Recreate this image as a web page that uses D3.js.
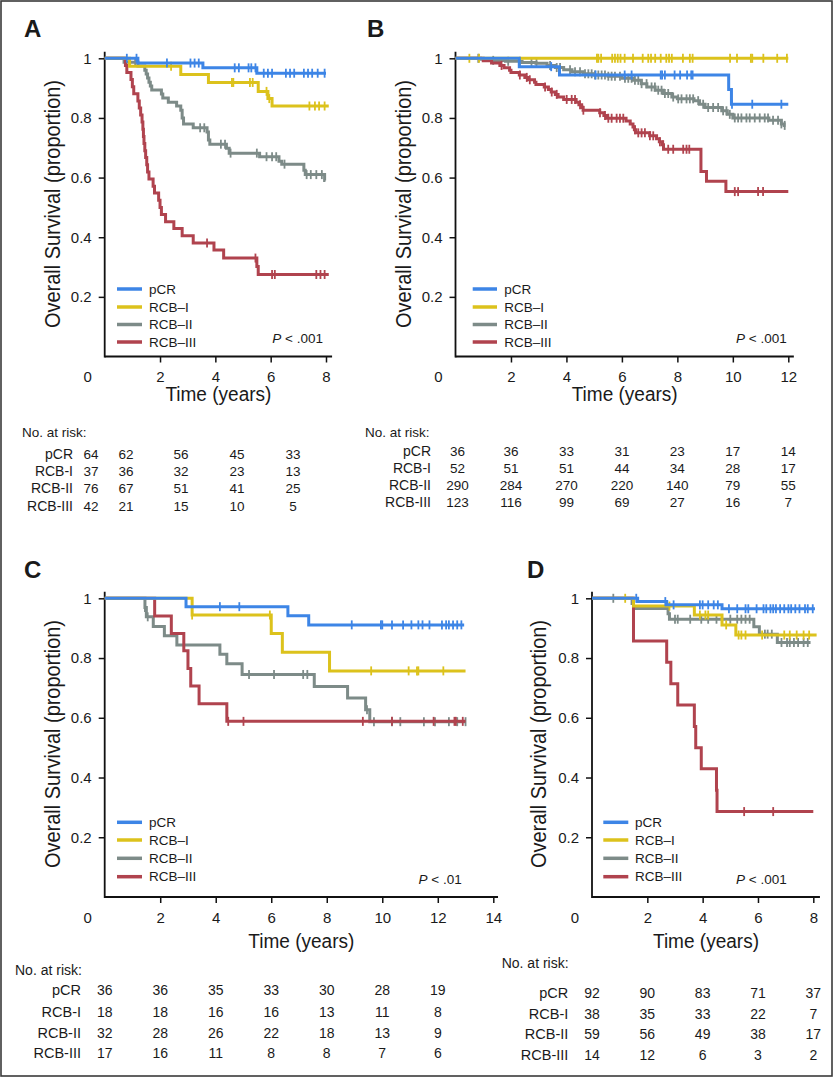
<!DOCTYPE html>
<html>
<head>
<meta charset="utf-8">
<script src="https://cdn.jsdelivr.net/npm/d3@7"></script>
<style>
  html, body { margin: 0; padding: 0; background: #fff; }
  svg { display: block; }
  text { font-family: "Liberation Sans", Arial, sans-serif; fill: #1a1a1a; }
  .narrow { font-family: "Liberation Sans Narrow", "Arial Narrow", "Liberation Sans", sans-serif; }
</style>
</head>
<body>
<svg id="chart" width="837" height="1078"></svg>
<script>
// ---------------- DATA ----------------
const groups = ["pCR", "RCB–I", "RCB–II", "RCB–III"];
const tableLabels = ["pCR", "RCB-I", "RCB-II", "RCB-III"];
const groupColors = ["#3d85e6", "#dcc21c", "#7d8b88", "#b0434e"];
const yTicks = [0.2, 0.4, 0.6, 0.8, 1];

// Panel A
const A_xTicks = [0, 2, 4, 6, 8];
const A_pCR_steps = [[1.2, 0.984], [3.55, 0.968], [5.5, 0.95]];
const A_RCBI_steps = [[0.9, 0.973], [2.75, 0.946], [3.75, 0.919], [5.55, 0.889], [5.9, 0.865], [6.05, 0.84]];
const A_RCBII_steps = [[0.7, 0.987], [1.2, 0.974], [1.45, 0.96], [1.5, 0.947], [1.55, 0.934], [1.6, 0.92], [1.65, 0.907], [1.7, 0.894], [2.05, 0.88], [2.1, 0.867], [2.3, 0.853], [2.6, 0.84], [2.75, 0.826], [2.8, 0.80], [2.85, 0.78], [3.2, 0.767], [3.7, 0.753], [3.75, 0.726], [3.8, 0.712], [4.4, 0.698], [4.5, 0.682], [5.6, 0.67], [6.3, 0.655], [6.4, 0.645], [7.2, 0.625], [7.25, 0.61], [7.95, 0.59]];
const A_RCBIII_steps = [[0.75, 0.976], [0.8, 0.952], [0.95, 0.929], [1.0, 0.905], [1.05, 0.881], [1.2, 0.857], [1.25, 0.833], [1.3, 0.81], [1.35, 0.786], [1.38, 0.762], [1.4, 0.738], [1.42, 0.714], [1.45, 0.69], [1.48, 0.667], [1.52, 0.643], [1.55, 0.619], [1.6, 0.595], [1.75, 0.571], [1.8, 0.548], [1.95, 0.524], [2.0, 0.5], [2.05, 0.476], [2.2, 0.452], [2.5, 0.429], [2.8, 0.405], [3.2, 0.381], [3.95, 0.357], [4.3, 0.33], [5.5, 0.302], [5.55, 0.275]];
const A_ends = [8.0, 8.1, 7.98, 8.1];
const A_pCR_censor = [0.8, 1.15, 2.25, 3.1, 3.25, 3.4, 4.7, 4.85, 5.2, 5.3, 5.45, 5.75, 5.9, 6.05, 6.55, 6.7, 6.85, 7.2, 7.35, 7.5, 7.7, 7.95];
const A_RCBI_censor = [2.4, 4.6, 4.65, 5.25, 5.35, 5.85, 5.95, 7.4, 7.6, 7.75, 7.95];
const A_RCBII_censor = [1.1, 3.45, 3.6, 4.2, 4.35, 4.55, 5.5, 5.85, 6.05, 6.2, 6.5, 7.3, 7.45, 7.65, 7.85];
const A_RCBIII_censor = [3.7, 5.45, 6.05, 6.15, 7.65, 7.8, 7.95];
const A_riskTimes = [0, 2, 4, 6, 8];
const A_risk_pCR = [64, 62, 56, 45, 33];
const A_risk_RCBI = [37, 36, 32, 23, 13];
const A_risk_RCBII = [76, 67, 51, 41, 25];
const A_risk_RCBIII = [42, 21, 15, 10, 5];

// Panel B
const B_xTicks = [0, 2, 4, 6, 8, 10, 12];
const B_pCR_steps = [[2.3, 0.972], [3.75, 0.944], [9.85, 0.895], [9.95, 0.846]];
const B_RCBI_steps = [];
const B_RCBII_steps = [[0.9, 0.997], [1.3, 0.993], [1.8, 0.99], [2.4, 0.986], [2.9, 0.983], [3.3, 0.976], [3.6, 0.969], [3.9, 0.962], [4.2, 0.955], [4.6, 0.948], [5.0, 0.944], [5.5, 0.94], [6.0, 0.933], [6.4, 0.926], [6.7, 0.915], [6.9, 0.904], [7.2, 0.893], [7.5, 0.882], [7.8, 0.87], [8.0, 0.864], [8.6, 0.858], [8.8, 0.846], [9.0, 0.835], [9.6, 0.824], [9.8, 0.812], [10.0, 0.80], [11.3, 0.792], [11.75, 0.78], [11.85, 0.775]];
const B_RCBIII_steps = [[1.0, 0.992], [1.3, 0.984], [1.6, 0.976], [1.75, 0.968], [1.95, 0.96], [2.0, 0.952], [2.3, 0.944], [2.5, 0.936], [2.6, 0.928], [2.85, 0.92], [2.9, 0.912], [3.2, 0.904], [3.35, 0.895], [3.45, 0.887], [3.6, 0.879], [3.7, 0.87], [3.9, 0.862], [4.35, 0.853], [4.45, 0.844], [4.55, 0.835], [4.6, 0.826], [5.2, 0.817], [5.35, 0.808], [5.45, 0.799], [6.15, 0.79], [6.3, 0.78], [6.4, 0.77], [6.45, 0.76], [6.5, 0.75], [7.0, 0.74], [7.25, 0.73], [7.35, 0.72], [7.45, 0.71], [7.5, 0.695], [8.85, 0.62], [9.05, 0.588], [9.75, 0.553]];
const B_ends = [12.0, 12.0, 11.9, 12.0];
const B_pCR_censor = [3.45, 5.05, 6.1, 6.35, 7.4, 7.45, 7.55, 7.9, 8.1, 8.35, 8.5, 8.55, 9.97, 10.7, 11.75];
const B_RCBI_censor = [0.5, 0.85, 5.1, 5.15, 5.25, 5.65, 5.75, 5.85, 5.95, 6.1, 6.4, 6.75, 6.95, 7.05, 7.2, 7.4, 7.6, 7.7, 7.8, 8.2, 8.45, 8.55, 9.9, 10.15, 10.65, 10.7, 11.1, 11.6, 11.95];
const B_RCBII_censor = [0.82, 1.36, 1.9, 2.32, 2.74, 2.92, 3.41, 3.65, 3.77, 4.13, 4.31, 4.49, 4.67, 4.79, 4.91, 5.03, 5.15, 5.27, 5.39, 5.51, 5.63, 5.75, 5.93, 6.11, 6.23, 6.35, 6.47, 6.59, 6.71, 6.89, 7.07, 7.19, 7.31, 7.43, 7.55, 7.67, 7.85, 8.03, 8.15, 8.33, 8.45, 8.57, 8.75, 8.93, 9.11, 9.29, 9.47, 9.65, 9.77, 9.89, 10.07, 10.19, 10.31, 10.49, 10.61, 10.79, 10.97, 11.15, 11.27, 11.45, 11.63, 11.75, 11.87];
const B_RCBIII_censor = [1.66, 2.32, 2.57, 2.68, 3.23, 3.47, 3.65, 4.01, 4.19, 4.31, 4.49, 4.61, 5.21, 5.39, 5.51, 5.63, 5.81, 5.93, 6.05, 6.47, 6.59, 6.71, 6.83, 7.01, 7.13, 7.37, 7.49, 7.67, 7.85, 8.21, 8.33, 8.43, 10.07, 10.19, 10.91, 11.09];
const B_riskTimes = [0, 2, 4, 6, 8, 10, 12];
const B_risk_pCR = [36, 36, 33, 31, 23, 17, 14];
const B_risk_RCBI = [52, 51, 51, 44, 34, 28, 17];
const B_risk_RCBII = [290, 284, 270, 220, 140, 79, 55];
const B_risk_RCBIII = [123, 116, 99, 69, 27, 16, 7];

// Panel C
const C_xTicks = [0, 2, 4, 6, 8, 10, 12, 14];
const C_pCR_steps = [[2.93, 0.972], [6.6, 0.942], [7.35, 0.911]];
const C_RCBI_steps = [[3.15, 0.944], [6.0, 0.882], [6.4, 0.819], [8.1, 0.757]];
const C_RCBII_steps = [[1.45, 0.969], [1.5, 0.938], [1.75, 0.906], [2.15, 0.875], [2.6, 0.844], [4.15, 0.813], [4.4, 0.781], [4.95, 0.745], [7.55, 0.705], [8.75, 0.666], [9.4, 0.627], [9.55, 0.587]];
const C_RCBIII_steps = [[1.8, 0.941], [2.4, 0.882], [2.85, 0.824], [3.0, 0.765], [3.1, 0.706], [3.4, 0.647], [4.4, 0.588]];
const C_ends = [12.95, 13.0, 13.0, 13.0];
const C_pCR_censor = [4.15, 4.85, 8.9, 9.95, 10.0, 10.35, 10.75, 11.05, 11.3, 11.45, 11.7, 12.15, 12.3, 12.4, 12.55, 12.7, 12.85];
const C_RCBI_censor = [3.15, 5.95, 9.6, 10.95, 11.25, 11.3, 12.2];
const C_RCBII_censor = [1.45, 1.55, 5.2, 6.1, 7.15, 7.3, 9.45, 9.7, 10.35, 10.65, 11.5, 11.9, 12.4, 12.7, 13.0];
const C_RCBIII_censor = [4.45, 5.0, 9.3, 10.35, 11.85, 12.6, 12.65, 12.9];
const C_riskTimes = [0, 2, 4, 6, 8, 10, 12];
const C_risk_pCR = [36, 36, 35, 33, 30, 28, 19];
const C_risk_RCBI = [18, 18, 16, 16, 13, 11, 8];
const C_risk_RCBII = [32, 28, 26, 22, 18, 13, 9];
const C_risk_RCBIII = [17, 16, 11, 8, 8, 7, 6];

// Panel D
const D_xTicks = [0, 2, 4, 6, 8];
const D_pCR_steps = [[1.65, 0.989], [2.7, 0.978], [4.7, 0.965]];
const D_RCBI_steps = [[1.5, 0.974], [3.7, 0.944], [4.7, 0.911], [5.2, 0.877]];
const D_RCBII_steps = [[1.45, 0.983], [1.5, 0.966], [2.75, 0.948], [2.8, 0.93], [5.85, 0.905], [6.05, 0.88], [6.7, 0.852]];
const D_RCBIII_steps = [[1.5, 0.857], [2.7, 0.786], [2.85, 0.714], [3.1, 0.643], [3.7, 0.571], [3.75, 0.5], [3.95, 0.429], [4.5, 0.357], [4.52, 0.286]];
const D_ends = [8.06, 8.12, 7.9, 8.0];
const D_pCR_censor = [1.6, 2.65, 2.95, 3.9, 4.0, 4.2, 4.4, 4.55, 4.95, 5.25, 5.55, 5.65, 5.95, 6.2, 6.3, 6.45, 6.55, 6.65, 6.8, 6.95, 7.1, 7.2, 7.35, 7.5, 7.7, 7.8, 7.98];
const D_RCBI_censor = [1.2, 2.8, 3.9, 4.1, 4.2, 4.85, 5.3, 5.4, 5.55, 6.15, 6.95, 7.15, 7.4, 7.65, 7.85];
const D_RCBII_censor = [0.77, 3.0, 3.1, 3.55, 3.95, 4.2, 4.5, 4.7, 5.0, 5.25, 5.4, 5.55, 5.7, 6.25, 6.35, 6.5, 6.85, 7.05, 7.15, 7.3, 7.45, 7.65, 7.8];
const D_RCBIII_censor = [5.5, 6.55];
const D_riskTimes = [0, 2, 4, 6, 8];
const D_risk_pCR = [92, 90, 83, 71, 37];
const D_risk_RCBI = [38, 35, 33, 22, 7];
const D_risk_RCBII = [59, 56, 49, 38, 17];
const D_risk_RCBIII = [14, 12, 6, 3, 2];

const pValues = ["< .001", "< .001", "< .01", "< .001"];
const panelLetters = ["A", "B", "C", "D"];

// ---------------- LAYOUT ----------------
const panels = [
  { letter: panelLetters[0], p: pValues[0], xTicks: A_xTicks, xMax: 8, axisEnd: 8.22,
    steps: [A_pCR_steps, A_RCBI_steps, A_RCBII_steps, A_RCBIII_steps], ends: A_ends,
    censor: [A_pCR_censor, A_RCBI_censor, A_RCBII_censor, A_RCBIII_censor],
    riskTimes: A_riskTimes, risk: [A_risk_pCR, A_risk_RCBI, A_risk_RCBII, A_risk_RCBIII],
    L: { x0: 104.7, x1: 326, y0: 356.5, y1: 58.3, letterX: 24, letterY: 37, yTitleX: 52, yTitleY: 204,
         xTitleY: 401, legX0: 117, legX1: 142, legTX: 149, legY: [289, 307, 324.5, 342], pX: 323, pY: 343,
         noRiskX: 22, noRiskY: 432, rowY: [454, 471, 488.5, 506], labelRight: 73, tfs: 13.5,
         riskCols: [91, 126, 181, 237, 293] } },
  { letter: panelLetters[1], p: pValues[1], xTicks: B_xTicks, xMax: 12, axisEnd: 12.2,
    steps: [B_pCR_steps, B_RCBI_steps, B_RCBII_steps, B_RCBIII_steps], ends: B_ends,
    censor: [B_pCR_censor, B_RCBI_censor, B_RCBII_censor, B_RCBIII_censor],
    riskTimes: B_riskTimes, risk: [B_risk_pCR, B_risk_RCBI, B_risk_RCBII, B_risk_RCBIII],
    L: { x0: 455.5, x1: 788.3, y0: 356.5, y1: 58.3, letterX: 367, letterY: 37, yTitleX: 403, yTitleY: 204,
         xTitleY: 401, legX0: 472.7, legX1: 497, legTX: 504.3, legY: [289, 307, 324.5, 342], pX: 786.7, pY: 343,
         noRiskX: 365, noRiskY: 432, rowY: [451, 468, 485, 502], labelRight: 431, tfs: 13.5, riskShift: 2 } },
  { letter: panelLetters[2], p: pValues[2], xTicks: C_xTicks, xMax: 14, axisEnd: 14.17,
    steps: [C_pCR_steps, C_RCBI_steps, C_RCBII_steps, C_RCBIII_steps], ends: C_ends,
    censor: [C_pCR_censor, C_RCBI_censor, C_RCBII_censor, C_RCBIII_censor],
    riskTimes: C_riskTimes, risk: [C_risk_pCR, C_risk_RCBI, C_risk_RCBII, C_risk_RCBIII],
    L: { x0: 104.7, x1: 493.3, y0: 897, y1: 598.3, letterX: 24, letterY: 578, yTitleX: 52, yTitleY: 744,
         xTitleY: 948, legX0: 117, legX1: 142, legTX: 149, legY: [822.3, 840, 858.3, 876.7], pX: 461.7, pY: 884,
         noRiskX: 15, noRiskY: 970, rowY: [990, 1011.7, 1032.7, 1053.3], labelRight: 81, tfs: 14, riskShift: 0 } },
  { letter: panelLetters[3], p: pValues[3], xTicks: D_xTicks, xMax: 8, axisEnd: 8.24,
    steps: [D_pCR_steps, D_RCBI_steps, D_RCBII_steps, D_RCBIII_steps], ends: D_ends,
    censor: [D_pCR_censor, D_RCBI_censor, D_RCBII_censor, D_RCBIII_censor],
    riskTimes: D_riskTimes, risk: [D_risk_pCR, D_risk_RCBI, D_risk_RCBII, D_risk_RCBIII],
    L: { x0: 592, x1: 813.3, y0: 897, y1: 598.3, letterX: 527, letterY: 578, yTitleX: 538.3, yTitleY: 744,
         xTitleY: 948, legX0: 603.3, legX1: 628.3, legTX: 635, legY: [822.3, 840, 858.3, 876.7], pX: 786.7, pY: 884,
         noRiskX: 501.7, noRiskY: 963.3, rowY: [993.3, 1014, 1034, 1055], labelRight: 568.3, tfs: 14, riskShift: 0 } }
];

// ---------------- DRAW ----------------
const svg = d3.select("#chart");
svg.append("rect").attr("x", 0).attr("y", 0).attr("width", 837).attr("height", 1078).attr("fill", "#fff");
svg.append("rect").attr("x", 1).attr("y", 1).attr("width", 831).attr("height", 1075)
  .attr("fill", "none").attr("stroke", "#3a3a3a").attr("stroke-width", 1.6);

function survAt(steps, t) {
  let s = 1;
  for (const [ts, v] of steps) if (ts <= t) s = v;
  return s;
}

const drawOrder = [2, 3, 1, 0];

panels.forEach(P => {
  const L = P.L;
  const x = d3.scaleLinear().domain([0, P.xMax]).range([L.x0, L.x1]);
  const y = d3.scaleLinear().domain([0, 1]).range([L.y0, L.y1]);
  const g = svg.append("g");

  // panel letter
  g.append("text").attr("x", L.letterX).attr("y", L.letterY)
    .style("font-size", "24px").style("font-weight", "bold").text(P.letter);

  // axes
  const xAxis = d3.axisBottom(x).tickValues(P.xTicks.filter(t => t > 0))
    .tickSize(6).tickSizeOuter(0).tickPadding(9).tickFormat(d3.format("d"));
  const gx = g.append("g").attr("transform", `translate(0,${L.y0})`).call(xAxis);
  gx.select(".domain").remove();
  gx.selectAll(".tick line").attr("stroke", "#111").attr("stroke-width", 1.5);
  gx.selectAll(".tick text").style("font-size", "15px").attr("fill", "#1a1a1a");

  const yAxis = d3.axisLeft(y).tickValues(yTicks).tickSize(6).tickSizeOuter(0).tickPadding(7)
    .tickFormat(d => d === 1 ? "1" : d3.format(".1f")(d));
  const gy = g.append("g").attr("transform", `translate(${L.x0},0)`).call(yAxis);
  gy.select(".domain").remove();
  gy.selectAll(".tick line").attr("stroke", "#111").attr("stroke-width", 1.5);
  gy.selectAll(".tick text").style("font-size", "15px").attr("fill", "#1a1a1a");

  // axis lines
  g.append("line").attr("x1", x(0)).attr("x2", x(P.axisEnd)).attr("y1", y(0)).attr("y2", y(0))
    .attr("stroke", "#111").attr("stroke-width", 1.8);
  g.append("line").attr("x1", x(0)).attr("x2", x(0)).attr("y1", y(0) + 0.9).attr("y2", y(1.022))
    .attr("stroke", "#111").attr("stroke-width", 1.8);

  // corner "0"
  g.append("text").attr("x", x(0) - 17).attr("y", y(0) + 6 + 9).attr("dy", "0.71em")
    .attr("text-anchor", "middle").style("font-size", "15px").text("0");

  // axis titles
  g.append("text").attr("class", "narrow")
    .attr("transform", `translate(${L.yTitleX},${L.yTitleY}) rotate(-90)`)
    .attr("text-anchor", "middle").attr("dy", "0.35em")
    .attr("textLength", 248).attr("lengthAdjust", "spacingAndGlyphs")
    .style("font-size", "22px").text("Overall Survival (proportion)");
  g.append("text").attr("class", "narrow")
    .attr("x", (x(0) + x(P.axisEnd)) / 2).attr("y", L.xTitleY)
    .attr("text-anchor", "middle")
    .attr("textLength", 106).attr("lengthAdjust", "spacingAndGlyphs")
    .style("font-size", "20px").text("Time (years)");

  // curves
  const line = d3.line().x(d => x(d[0])).y(d => y(d[1])).curve(d3.curveStepAfter);
  drawOrder.forEach(i => {
    const st = P.steps[i];
    const last = st.length ? st[st.length - 1][1] : 1;
    const pts = [[0, 1], ...st, [P.ends[i], last]];
    g.append("path").attr("d", line(pts)).attr("fill", "none")
      .attr("stroke", groupColors[i]).attr("stroke-width", 3).attr("stroke-linejoin", "miter");
    g.append("g").selectAll("line").data(P.censor[i]).join("line")
      .attr("x1", d => x(d)).attr("x2", d => x(d))
      .attr("y1", d => y(survAt(st, d)) - 4.5).attr("y2", d => y(survAt(st, d)) + 4.5)
      .attr("stroke", groupColors[i]).attr("stroke-width", 1.8);
  });

  // legend
  groups.forEach((name, i) => {
    g.append("line").attr("x1", L.legX0).attr("x2", L.legX1).attr("y1", L.legY[i]).attr("y2", L.legY[i])
      .attr("stroke", groupColors[i]).attr("stroke-width", 3.5);
    g.append("text").attr("x", L.legTX).attr("y", L.legY[i]).attr("dy", "0.35em")
      .style("font-size", "13.5px").text(name);
  });

  // p-value
  const pt = g.append("text").attr("x", L.pX).attr("y", L.pY).attr("text-anchor", "end").style("font-size", "13.5px");
  pt.append("tspan").style("font-style", "italic").text("P");
  pt.append("tspan").text(" " + P.p);

  // risk table
  g.append("text").attr("x", L.noRiskX).attr("y", L.noRiskY).attr("dy", "0.35em")
    .style("font-size", L.tfs + "px").text("No. at risk:");
  const colX = L.riskCols
    ? d3.scaleOrdinal().domain(P.riskTimes).range(L.riskCols)
    : (t => x(t) + (t === 0 ? L.riskShift : 0));
  tableLabels.forEach((lab, i) => {
    g.append("text").attr("class", "narrow").attr("x", L.labelRight).attr("y", L.rowY[i]).attr("dy", "0.35em")
      .attr("text-anchor", "end").style("font-size", (L.tfs + 0.5) + "px").text(lab);
    g.append("g").selectAll("text").data(P.risk[i]).join("text")
      .attr("x", (d, j) => colX(P.riskTimes[j])).attr("y", L.rowY[i]).attr("dy", "0.35em")
      .attr("text-anchor", "middle").style("font-size", L.tfs + "px").text(d => d);
  });
});
</script>
</body>
</html>
